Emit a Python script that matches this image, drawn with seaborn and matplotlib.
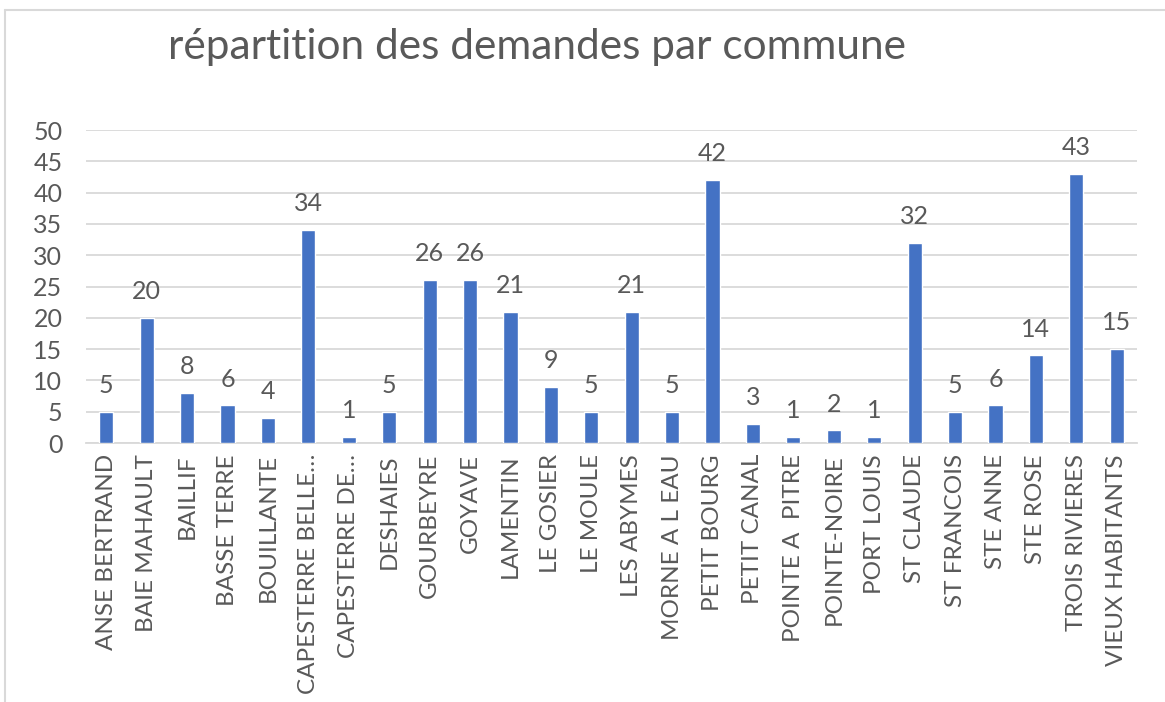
import matplotlib
matplotlib.use("Agg")
import matplotlib.pyplot as plt
import seaborn as sns
import pandas as pd
from matplotlib.lines import Line2D

communes = ["ANSE BERTRAND", "BAIE MAHAULT", "BAILLIF", "BASSE TERRE", "BOUILLANTE",
            "CAPESTERRE BELLE…", "CAPESTERRE DE…", "DESHAIES", "GOURBEYRE", "GOYAVE",
            "LAMENTIN", "LE GOSIER", "LE MOULE", "LES ABYMES", "MORNE A L EAU",
            "PETIT BOURG", "PETIT CANAL", "POINTE A  PITRE", "POINTE-NOIRE", "PORT LOUIS",
            "ST CLAUDE", "ST FRANCOIS", "STE ANNE", "STE ROSE", "TROIS RIVIERES",
            "VIEUX HABITANTS"]
demandes = [5, 20, 8, 6, 4, 34, 1, 5, 26, 26, 21, 9, 5, 21, 5, 42, 3, 1, 2, 1,
            32, 5, 6, 14, 43, 15]
title = "répartition des demandes par commune"
yticks = [0, 5, 10, 15, 20, 25, 30, 35, 40, 45, 50]

sns.set_theme(style="white")
plt.rcParams['font.family'] = ['Lato', 'DejaVu Sans']

df = pd.DataFrame({"commune": communes, "demandes": demandes})

fig = plt.figure(figsize=(11.65, 7.02), dpi=100)
ax = fig.add_axes([86 / 1165, 1 - 443 / 702, (1137 - 86) / 1165, (443 - 130) / 702])

text_color = "#595959"
sns.barplot(data=df, x="commune", y="demandes", color="#4472C4", width=0.35,
            saturation=1, ax=ax, zorder=3)

for i, v in enumerate(demandes):
    ax.annotate(str(v), (i, v), xytext=(0, 13.5), textcoords="offset points",
                ha="center", va="baseline", fontsize=18, color=text_color)

ax.set_ylim(0, 50)
ax.set_xlim(-0.5, len(communes) - 0.5)
ax.set_yticks(yticks)
ax.set_yticklabels([str(t) for t in yticks], fontsize=18, color=text_color)
ax.yaxis.grid(True, color="#D9D9D9", linewidth=1.3, zorder=0)
ax.set_axisbelow(True)
ax.set_xticks(range(len(communes)))
ax.set_xticklabels(communes, rotation=90, fontsize=17.5, color=text_color)
ax.tick_params(axis="both", length=0, pad=8)
ax.tick_params(axis="y", pad=17)
ax.set_xlabel("")
ax.set_ylabel("")
for s in ["top", "right", "left"]:
    ax.spines[s].set_visible(False)
ax.spines["bottom"].set_color("#D9D9D9")
ax.spines["bottom"].set_linewidth(1.3)

fig.text(537 / 1165, 1 - 47 / 702, title, ha="center", va="center", fontsize=30.5,
         color=text_color)

# outer chart frame
fig.add_artist(Line2D([5 / 1165, 5 / 1165], [0, 1 - 10 / 702], color="#D9D9D9", lw=1.5))
fig.add_artist(Line2D([5 / 1165, 1], [1 - 10 / 702, 1 - 10 / 702], color="#D9D9D9", lw=1.5))

fig.savefig("out.png", dpi=100, facecolor="white")
